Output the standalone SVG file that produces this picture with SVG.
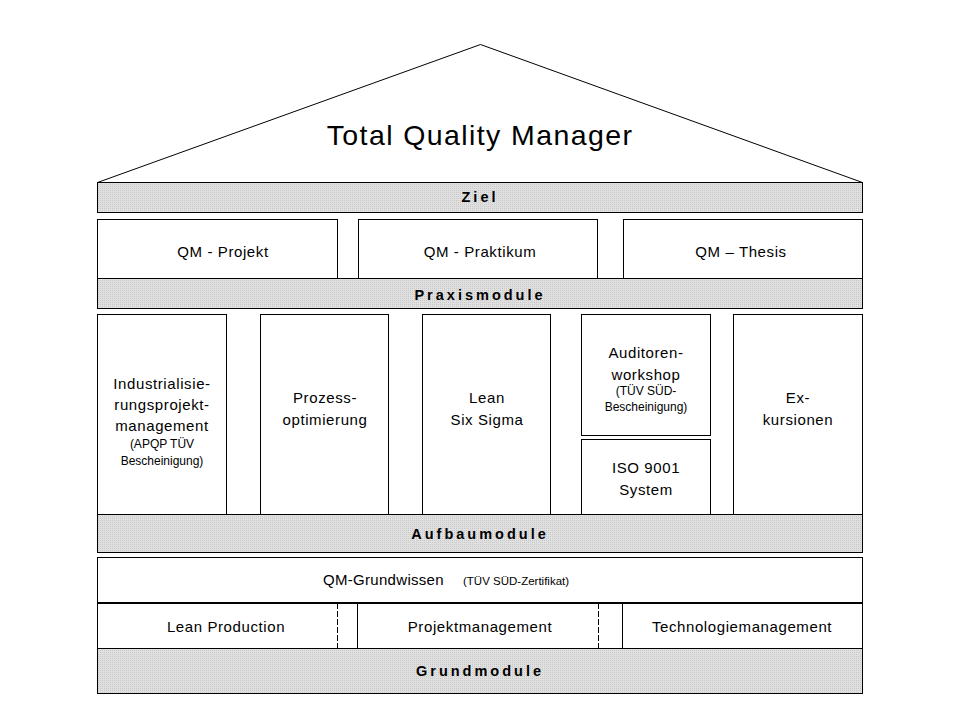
<svg xmlns="http://www.w3.org/2000/svg" width="960" height="720" viewBox="0 0 960 720">
<defs>
<pattern id="dots" width="2" height="2" patternUnits="userSpaceOnUse">
<rect width="2" height="2" fill="#e0e0e0"/>
<rect width="1" height="1" fill="#c8c8c8"/>
</pattern>
</defs>
<style>
.box{fill:#ffffff;stroke:#000000;stroke-width:1}
.bar{fill:url(#dots);stroke:#000000;stroke-width:1}
.t{font-family:"Liberation Sans",Arial,sans-serif;font-size:15px;fill:#000;text-anchor:middle;letter-spacing:0.6px}
.s{font-family:"Liberation Sans",Arial,sans-serif;font-size:12px;fill:#000;text-anchor:middle}
.b{font-family:"Liberation Sans",Arial,sans-serif;font-size:14.5px;font-weight:bold;fill:#000;text-anchor:middle;letter-spacing:3px}
.title{font-family:"Liberation Sans",Arial,sans-serif;font-size:28.5px;fill:#000;text-anchor:middle;letter-spacing:1.4px}
</style>
<rect width="960" height="720" fill="#ffffff"/>

<g id="roof">
<polygon points="97.5,182.5 480.5,44.5 862.5,182.5" fill="#ffffff" stroke="#000" stroke-width="1"/>
<text class="title" x="480" y="145">Total Quality Manager</text>
</g>

<g id="ziel">
<rect class="bar" x="97.5" y="182.5" width="765" height="30"/>
<text class="b" x="480" y="202">Ziel</text>
</g>

<g id="qm-projekt">
<rect class="box" x="97.5" y="219.5" width="240" height="59"/>
<text class="t" x="223" y="257">QM  - Projekt</text>
</g>
<g id="qm-praktikum">
<rect class="box" x="358.5" y="219.5" width="239" height="59"/>
<text class="t" x="480" y="257">QM  - Praktikum</text>
</g>
<g id="qm-thesis">
<rect class="box" x="623.5" y="219.5" width="239" height="59"/>
<text class="t" x="741" y="257">QM  – Thesis</text>
</g>

<g id="praxismodule">
<rect class="bar" x="97.5" y="278.5" width="765" height="30"/>
<text class="b" x="480" y="300">Praxismodule</text>
</g>

<g id="industrialisierung">
<rect class="box" x="97.5" y="314.5" width="129" height="200"/>
<text class="t" x="162" y="389">Industrialisie-</text>
<text class="t" x="162" y="410">rungsprojekt-</text>
<text class="t" x="162" y="431">management</text>
<text class="s" x="162" y="448">(APQP TÜV</text>
<text class="s" x="162" y="465">Bescheinigung)</text>
</g>

<g id="prozessoptimierung">
<rect class="box" x="260.5" y="314.5" width="128" height="200"/>
<text class="t" x="325" y="403">Prozess-</text>
<text class="t" x="325" y="425">optimierung</text>
</g>

<g id="lean-six-sigma">
<rect class="box" x="422.5" y="314.5" width="128" height="200"/>
<text class="t" x="487" y="403">Lean</text>
<text class="t" x="487" y="425">Six Sigma</text>
</g>

<g id="auditorenworkshop">
<rect class="box" x="581.5" y="314.5" width="129" height="121"/>
<text class="t" x="646" y="358">Auditoren-</text>
<text class="t" x="646" y="380">workshop</text>
<text class="s" x="646" y="395">(TÜV SÜD-</text>
<text class="s" x="646" y="411">Bescheinigung)</text>
</g>

<g id="iso9001">
<rect class="box" x="581.5" y="439.5" width="129" height="75"/>
<text class="t" x="646" y="473">ISO  9001</text>
<text class="t" x="646" y="495">System</text>
</g>

<g id="exkursionen">
<rect class="box" x="733.5" y="314.5" width="129" height="200"/>
<text class="t" x="798" y="403">Ex-</text>
<text class="t" x="798" y="425">kursionen</text>
</g>

<g id="aufbaumodule">
<rect class="bar" x="97.5" y="514.5" width="765" height="38"/>
<text class="b" x="480" y="539">Aufbaumodule</text>
</g>

<g id="qm-grundwissen">
<rect class="box" x="97.5" y="557.5" width="765" height="45"/>
<text x="323" y="585" style="font-family:'Liberation Sans',Arial,sans-serif;font-size:15px;fill:#000;letter-spacing:0.3px">QM-Grundwissen</text>
<text x="463" y="585" style="font-family:'Liberation Sans',Arial,sans-serif;font-size:11.5px;fill:#000">(TÜV SÜD-Zertifikat)</text>
</g>

<g id="lean-production">
<path d="M97.5,648.5 V603.5 H337.5" fill="#ffffff" stroke="#000" stroke-width="1"/>
<line x1="337.5" y1="603" x2="337.5" y2="648" stroke="#000" stroke-width="1" stroke-dasharray="6,2"/>
<text class="t" x="226" y="632">Lean  Production</text>
</g>

<g id="projektmanagement">
<path d="M357.5,648.5 V603.5 H598.5" fill="#ffffff" stroke="#000" stroke-width="1"/>
<line x1="598.5" y1="603" x2="598.5" y2="648" stroke="#000" stroke-width="1" stroke-dasharray="6,2"/>
<text class="t" x="480" y="632">Projektmanagement</text>
</g>

<g id="technologiemanagement">
<rect class="box" x="622.5" y="603.5" width="240" height="45"/>
<text class="t" x="742" y="632">Technologiemanagement</text>
</g>

<line x1="97" y1="603" x2="863" y2="603" stroke="#000" stroke-width="2"/>

<g id="grundmodule">
<rect class="bar" x="97.5" y="648.5" width="765" height="45"/>
<text class="b" x="480" y="676">Grundmodule</text>
</g>

<g id="connectors"></g>
</svg>
